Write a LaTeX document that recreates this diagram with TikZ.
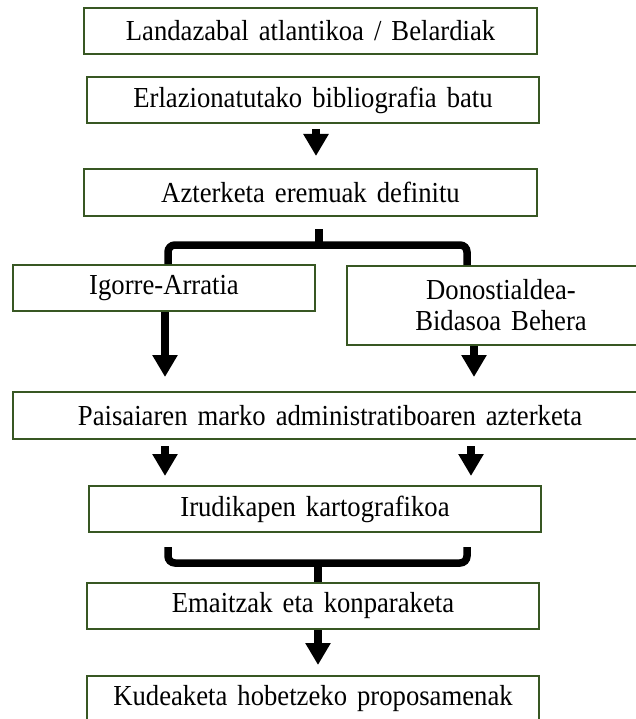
\documentclass[tikz,border=0pt]{standalone}
\usepackage{fontspec}
\setmainfont{Liberation Serif}[FakeStretch=0.92,WordSpace=1.5]
\usetikzlibrary{arrows.meta,calc}
\definecolor{boxgreen}{RGB}{56,87,35}
\begin{document}
\begin{tikzpicture}[x=1pt,y=-1pt,
  box/.style={draw=boxgreen, line width=2pt, fill=white, inner sep=0pt, align=center,
    font=\fontsize{29}{31}\selectfont, minimum height=46pt},
  arr/.style={line width=7.5pt, -{Triangle[length=22pt,width=24pt]}},
  brk/.style={line width=7.5pt, rounded corners=7pt},
  stem/.style={line width=7.5pt}]
\useasboundingbox (0,0) rectangle (636,719);
\clip (0,0) rectangle (636,719);
% boxes
\node[box, minimum width=453pt] (b1) at (310.5,31) {Landazabal atlantikoa / Belardiak};
\node[box, minimum width=452pt] (b2) at (313,100) {Erlazionatutako bibliografia batu};
\node[box, minimum width=453pt, minimum height=47pt] (b3) at (310.5,192.5) {Azterketa eremuak definitu};
\node[box, minimum width=302pt] (b4) at (164,288) {Igorre-Arratia};
\node[box, minimum width=308pt, minimum height=79pt] (b5) at (501,305.5) {Donostialdea-\\Bidasoa Behera};
\node[box, minimum width=634pt, minimum height=47pt] (b6) at (330,415.5) {Paisaiaren marko administratiboaren azterketa};
\node[box, minimum width=452pt] (b7) at (315,509) {Irudikapen kartografikoa};
\node[box, minimum width=452pt] (b8) at (313,606) {Emaitzak eta konparaketa};
\node[box, minimum width=452pt] (b9) at (313,699) {Kudeaketa hobetzeko proposamenak};
% helper coordinates
\coordinate (xa) at (316,0);
\coordinate (xb) at (165,0);
\coordinate (xc) at (474,0);
\coordinate (xd) at (471,0);
\coordinate (xe) at (318,0);
\coordinate (xl) at (168,0);
\coordinate (xr) at (467,0);
\coordinate (j1) at (319,245);
\coordinate (j2) at (318,563);
% arrows
\draw[arr, shorten <=5pt, shorten >=12pt] (b2.south -| xa) -- (b3.north -| xa);
\draw[arr, shorten >=14pt] (b4.south -| xb) -- (b6.north -| xb);
\draw[arr, shorten >=14pt] (b5.south -| xc) -- (b6.north -| xc);
\draw[arr, shorten <=6pt, shorten >=9pt] (b6.south -| xb) -- (b7.north -| xb);
\draw[arr, shorten <=6pt, shorten >=9pt] (b6.south -| xd) -- (b7.north -| xd);
\draw[arr, shorten >=10pt] (b8.south -| xe) -- (b9.north -| xe);
% bracket 1
\draw[brk] (b4.north -| xl) |- (j1) -| (b5.north -| xr);
\draw[stem] (j1) -- ($(b3.south -| j1)+(0,12)$);
% bracket 2
\draw[brk] ($(b7.south -| xl)+(0,14)$) |- (j2) -| ($(b7.south -| xr)+(0,14)$);
\draw[stem] (j2) -- (b8.north -| j2);
\end{tikzpicture}
\end{document}
